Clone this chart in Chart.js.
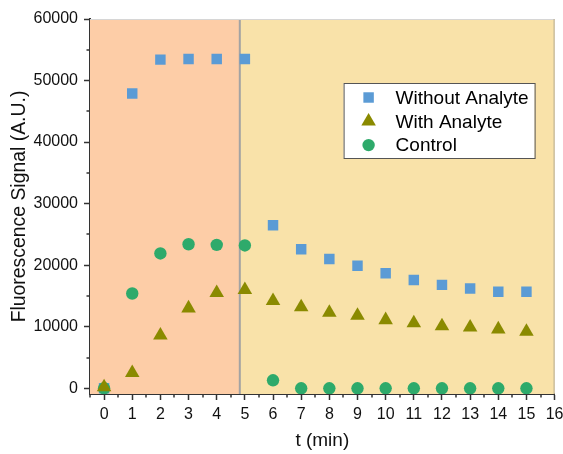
<!DOCTYPE html>
<html>
<head>
<meta charset="utf-8">
<script src="https://cdn.jsdelivr.net/npm/chart.js@4.4.1/dist/chart.umd.min.js"></script>
<style>
  html, body { margin: 0; padding: 0; background: #fff; }
  #wrap { width: 563px; height: 454px; }
</style>
</head>
<body>
<div id="wrap"><canvas id="chart" width="563" height="454"></canvas></div>
<script>
// time points (min)
const times = [0, 1, 2, 3, 4, 5, 6, 7, 8, 9, 10, 11, 12, 13, 14, 15];

// fluorescence readings (A.U.)
const withoutAnalyte = [0, 47900, 53400, 53500, 53500, 53500, 26500, 22600, 21000, 19900, 18700, 17600, 16800, 16200, 15700, 15700];
const withAnalyte = [200, 2500, 8600, 13000, 15500, 16000, 14200, 13200, 12300, 11800, 11100, 10600, 10100, 9900, 9600, 9200];
const control = [0, 15400, 21900, 23400, 23300, 23200, 1300, 0, 0, 0, 0, 0, 0, 0, 0, 0];

const seriesNames = ["Without Analyte", "With Analyte", "Control"];

// axis ticks
const xTicks = [0, 1, 2, 3, 4, 5, 6, 7, 8, 9, 10, 11, 12, 13, 14, 15, 16];
const yTicks = [0, 10000, 20000, 30000, 40000, 50000, 60000];

// end of the first phase (shaded orange)
const phaseSwitch = 4.82;

const FONT = "'Liberation Sans', Arial, sans-serif";
const AXIS = "#333333";

function points(ys) {
    return times.map((t, i) => ({ x: t, y: ys[i] }));
}

// shaded phases, separator line and top/right frame
const backdrop = {
    id: "backdrop",
    beforeDatasetsDraw(chart) {
        const { ctx, chartArea: a, scales } = chart;
        const xs = scales.x.getPixelForValue(phaseSwitch);
        ctx.save();
        ctx.fillStyle = "#fdcda7";
        ctx.fillRect(a.left, a.top, xs - a.left, a.bottom - a.top);
        ctx.fillStyle = "#f9e2a9";
        ctx.fillRect(xs, a.top, a.right - xs, a.bottom - a.top);
        ctx.strokeStyle = "#a3a3a3";
        ctx.lineWidth = 2;
        ctx.beginPath();
        ctx.moveTo(xs, a.top);
        ctx.lineTo(xs, a.bottom);
        ctx.stroke();
        ctx.lineWidth = 1;
        ctx.strokeStyle = "#d6d6d6";
        ctx.beginPath();
        ctx.moveTo(a.left, a.top + 0.5);
        ctx.lineTo(a.right, a.top + 0.5);
        ctx.stroke();
        ctx.strokeStyle = "#b5aa90";
        ctx.beginPath();
        ctx.moveTo(a.right - 0.5, a.top);
        ctx.lineTo(a.right - 0.5, a.bottom);
        ctx.stroke();
        ctx.restore();
    },
};

// minor ticks halfway between the major ones
const minorTicks = {
    id: "minorTicks",
    afterDraw(chart) {
        const { ctx, chartArea: a, scales } = chart;
        ctx.save();
        ctx.strokeStyle = AXIS;
        ctx.lineWidth = 1.5;
        ctx.beginPath();
        for (let v = -0.5; v <= 16; v += 1) {
            const px = Math.round(scales.x.getPixelForValue(v));
            ctx.moveTo(px, a.bottom);
            ctx.lineTo(px, a.bottom + 3.5);
        }
        for (let v = 5000; v < 60000; v += 10000) {
            const py = Math.round(scales.y.getPixelForValue(v));
            ctx.moveTo(a.left, py);
            ctx.lineTo(a.left - 3.5, py);
        }
        ctx.stroke();
        ctx.restore();
    },
};

function marker(ctx, style, x, y, r, color) {
    ctx.fillStyle = color;
    ctx.beginPath();
    if (style === "rect") {
        const s = r * Math.SQRT1_2;
        ctx.rect(x - s, y - s, 2 * s, 2 * s);
    } else if (style === "triangle") {
        ctx.moveTo(x, y - r);
        ctx.lineTo(x + r * Math.sin(Math.PI * 2 / 3), y + r * 0.5);
        ctx.lineTo(x - r * Math.sin(Math.PI * 2 / 3), y + r * 0.5);
        ctx.closePath();
    } else {
        ctx.arc(x, y, r, 0, Math.PI * 2);
    }
    ctx.fill();
}

// boxed legend inside the plot
const boxLegend = {
    id: "boxLegend",
    afterDraw(chart) {
        const { ctx, chartArea: a } = chart;
        const bx = a.right - 211, by = a.top + 64, bw = 191, bh = 75;
        ctx.save();
        ctx.fillStyle = "#ffffff";
        ctx.fillRect(bx, by, bw, bh);
        ctx.strokeStyle = "#555555";
        ctx.lineWidth = 1;
        ctx.strokeRect(bx + 0.5, by + 0.5, bw, bh);
        ctx.font = "19px " + FONT;
        ctx.textBaseline = "middle";
        ctx.fillStyle = "#000";
        const order = [2, 0, 1];
        chart.data.datasets.forEach((ds, i) => {
            const row = order[i];
            const cy = by + 14.5 + row * 23.8;
            marker(ctx, ds.pointStyle, bx + 25, cy, ds.pointRadius, ds.backgroundColor);
            ctx.fillStyle = "#000";
            ctx.fillText(ds.label, bx + 52, cy + 1);
        });
        ctx.restore();
    },
};

new Chart(document.getElementById("chart"), {
    type: "scatter",
    data: {
        datasets: [
            {
                label: seriesNames[2],
                data: points(control),
                pointStyle: "circle",
                pointRadius: 6.2,
                backgroundColor: "#2eaa6b",
                borderColor: "#2eaa6b",
                borderWidth: 0,
                order: 2,
            },
            {
                label: seriesNames[0],
                data: points(withoutAnalyte),
                pointStyle: "rect",
                pointRadius: 7.4,
                backgroundColor: "#5b9bd5",
                borderColor: "#5b9bd5",
                borderWidth: 0,
                order: 3,
            },
            {
                label: seriesNames[1],
                data: points(withAnalyte),
                pointStyle: "triangle",
                pointRadius: 8.4,
                backgroundColor: "#8a8a00",
                borderColor: "#8a8a00",
                borderWidth: 0,
                order: 1,
            },
        ],
    },
    options: {
        responsive: false,
        animation: false,
        devicePixelRatio: 1,
        layout: { padding: { top: 19, right: 7, left: 0, bottom: 0 } },
        plugins: {
            legend: { display: false },
            tooltip: { enabled: false },
        },
        scales: {
            x: {
                type: "linear",
                min: -0.5,
                max: 16,
                afterBuildTicks: (s) => { s.ticks = xTicks.map((v) => ({ value: v })); },
                afterFit: (s) => {
                    s.height = 60;
                    s.paddingLeft = 0;
                    s.paddingRight = 0;
                },
                grid: {
                    drawOnChartArea: false,
                    drawTicks: true,
                    tickLength: 6,
                    tickWidth: 1.5,
                    tickColor: AXIS,
                },
                border: { display: true, color: AXIS, width: 2 },
                ticks: {
                    color: "#111",
                    font: { family: FONT, size: 16 },
                    padding: 5,
                    maxRotation: 0,
                    autoSkip: false,
                    callback: (v) => String(v),
                },
                title: {
                    display: true,
                    text: "t (min)",
                    color: "#111",
                    font: { family: FONT, size: 19 },
                    padding: { top: 0, bottom: 2 },
                },
            },
            y: {
                type: "linear",
                min: -930,
                max: 60000,
                afterBuildTicks: (s) => { s.ticks = yTicks.map((v) => ({ value: v })); },
                afterFit: (s) => {
                    s.width = 90;
                    s.paddingTop = 0;
                    s.paddingBottom = 0;
                },
                grid: {
                    drawOnChartArea: false,
                    drawTicks: true,
                    tickLength: 6,
                    tickWidth: 1.5,
                    tickColor: AXIS,
                },
                border: { display: true, color: AXIS, width: 2 },
                ticks: {
                    color: "#111",
                    font: { family: FONT, size: 16 },
                    padding: 6,
                    autoSkip: false,
                    callback: (v) => String(v),
                },
                title: {
                    display: true,
                    text: "Fluorescence Signal (A.U.)",
                    color: "#111",
                    font: { family: FONT, size: 19.4 },
                    padding: { top: 8, bottom: 0 },
                },
            },
        },
    },
    plugins: [backdrop, minorTicks, boxLegend],
});
</script>
</body>
</html>
